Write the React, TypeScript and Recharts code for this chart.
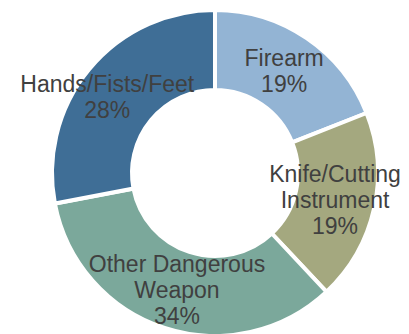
import React from 'react'
import { PieChart, Pie, Cell, PieLabelRenderProps } from 'recharts'

const RADIAN = Math.PI / 180

const categories = ['Firearm', 'Knife/Cutting Instrument', 'Other Dangerous Weapon', 'Hands/Fists/Feet']
const shares = [19, 19, 34, 28]
// how each category label wraps, as in the original
const labelLines = [['Firearm'], ['Knife/Cutting', 'Instrument'], ['Other Dangerous', 'Weapon'], ['Hands/Fists/Feet']]
const COLORS = ['#93B4D4', '#A4A87F', '#7BA89B', '#3F6E96']

// small hand nudges for labels that got pushed around in the original
const NUDGE = [
  [0, 0],
  [0, 0],
  [0, 0],
  [-6, 8],
]

const data = categories.map((name, i) => ({ name, value: shares[i] }))

export default function App() {
  const renderLabel = (props: PieLabelRenderProps & { index: number }) => {
    const { cx, cy, midAngle, percent, index } = props
    const r = index === 3 ? 132 : 123
    const x = Number(cx) + r * Math.cos(-Number(midAngle) * RADIAN) + NUDGE[index][0]
    const y = Number(cy) + r * Math.sin(-Number(midAngle) * RADIAN) + NUDGE[index][1]
    const lines = [...labelLines[index], `${Math.round((percent ?? 0) * 100)}%`]
    const lh = 26
    // first baseline so the cap-height block is centred on (x, y)
    const first = y - ((lines.length - 1) * lh) / 2 + 8
    return (
      <text
        x={x}
        y={first}
        fill="#404040"
        textAnchor="middle"
        fontSize={23}
        fontFamily="'Liberation Sans', Arial, sans-serif"
      >
        {lines.map((t, i) => (
          <tspan key={i} x={x} y={first + i * lh}>
            {t}
          </tspan>
        ))}
      </text>
    )
  }

  return (
    <div style={{ position: 'absolute', left: 0, top: 0 }}>
      <PieChart width={409} height={334} margin={{ top: 0, right: 0, bottom: 0, left: 0 }}>
        <Pie
          data={data}
          dataKey="value"
          cx={215}
          cy={173}
          innerRadius={83}
          outerRadius={163}
          startAngle={90}
          endAngle={-270}
          stroke="#ffffff"
          strokeWidth={4}
          labelLine={false}
          label={renderLabel}
          isAnimationActive={false}
        >
          {data.map((entry, index) => (
            <Cell key={`cell-${index}`} fill={COLORS[index % COLORS.length]} />
          ))}
        </Pie>
      </PieChart>
    </div>
  )
}
